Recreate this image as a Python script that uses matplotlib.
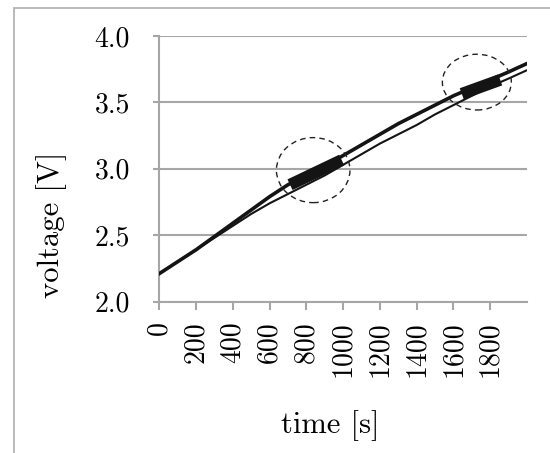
import numpy as np
import matplotlib
matplotlib.use("Agg")
import matplotlib.pyplot as plt
from matplotlib.patches import Ellipse, Rectangle

# ── data ─────────────────────────────────────────────────────────────────────
time_s = [0, 100, 200, 300, 400, 500, 600, 700, 800, 900, 1000,
          1100, 1200, 1300, 1400, 1500, 1600, 1700, 1800, 1900, 1995]
upper_v = [2.21, 2.30, 2.39, 2.49, 2.59, 2.69, 2.79, 2.88, 2.95, 3.02, 3.10,
           3.18, 3.26, 3.34, 3.41, 3.48, 3.55, 3.61, 3.67, 3.73, 3.79]
lower_v = [2.21, 2.30, 2.39, 2.48, 2.57, 2.66, 2.74, 2.81, 2.88, 2.95, 3.03,
           3.11, 3.19, 3.26, 3.33, 3.41, 3.48, 3.55, 3.62, 3.68, 3.74]

# dense (oscillating) stretches, drawn as solid bands
burst1_t = [711, 992]
burst1_v = [2.88, 3.066]
burst2_t = [1645, 1854]
burst2_v = [3.565, 3.67]

# dashed circles around the bursts: (centre t, centre V, width s, height V)
circles = [(837, 2.99, 400, 0.49), (1727, 3.653, 375, 0.42)]

x_ticks = [0, 200, 400, 600, 800, 1000, 1200, 1400, 1600, 1800]
y_ticks = [2.0, 2.5, 3.0, 3.5, 4.0]
y_labels = ["2.0", "2.5", "3.0", "3.5", "4.0"]

# ── style ────────────────────────────────────────────────────────────────────
GRID = "#a6a6a6"
INK = "#141414"

plt.rcParams.update({
    "font.family": "serif",
    "font.serif": ["cmr10", "DejaVu Serif"],
    "axes.formatter.use_mathtext": True,
})

fig = plt.figure(figsize=(5.5, 4.53), dpi=100)
ax = fig.add_axes([0.2896, 0.3344, 0.668, 0.586])

# outer chart border (runs off right and bottom edges)
top = 1.0 - 7.5 / 453
fig.add_artist(Rectangle((13.5 / 550, -0.2), 1.2, top + 0.2,
                         transform=fig.transFigure, fill=False,
                         edgecolor="#b4b4b4", lw=1.3, clip_on=False))

ax.plot(time_s, lower_v, color=INK, lw=1.5, zorder=3)
ax.plot(time_s, upper_v, color=INK, lw=2.6, zorder=4)
ax.plot(burst1_t, burst1_v, color=INK, lw=8.5, solid_capstyle="butt", zorder=5)
ax.plot(burst2_t, burst2_v, color=INK, lw=8.5, solid_capstyle="butt", zorder=5)

for ct, cv, w, h in circles:
    ax.add_patch(Ellipse((ct, cv), w, h, fill=False, edgecolor="#222222",
                         lw=1.0, ls=(0, (4, 3)), zorder=6))

ax.set_xlim(0, 1998)
ax.set_ylim(2.0, 4.0)
ax.set_xticks(x_ticks, [str(t) for t in x_ticks], rotation=90, fontsize=20)
ax.set_yticks(y_ticks, y_labels, fontsize=20)
ax.tick_params(axis="y", length=4, width=1.5, color=GRID, pad=17)
ax.tick_params(axis="x", length=6, width=1.5, color=GRID, pad=8)

ax.grid(True, axis="y", color=GRID, lw=1.5)
for side in ("top", "right"):
    ax.spines[side].set_visible(False)
for side in ("left", "bottom"):
    ax.spines[side].set_color(GRID)
    ax.spines[side].set_linewidth(1.5)
ax.set_axisbelow(True)

ax.set_xlabel("time [s]", fontsize=22)
ax.xaxis.set_label_coords(0.464, -0.41)
ax.set_ylabel("voltage [V]", fontsize=22)
ax.yaxis.set_label_coords(-0.25, 0.29)

fig.savefig("out.png", dpi=100)
